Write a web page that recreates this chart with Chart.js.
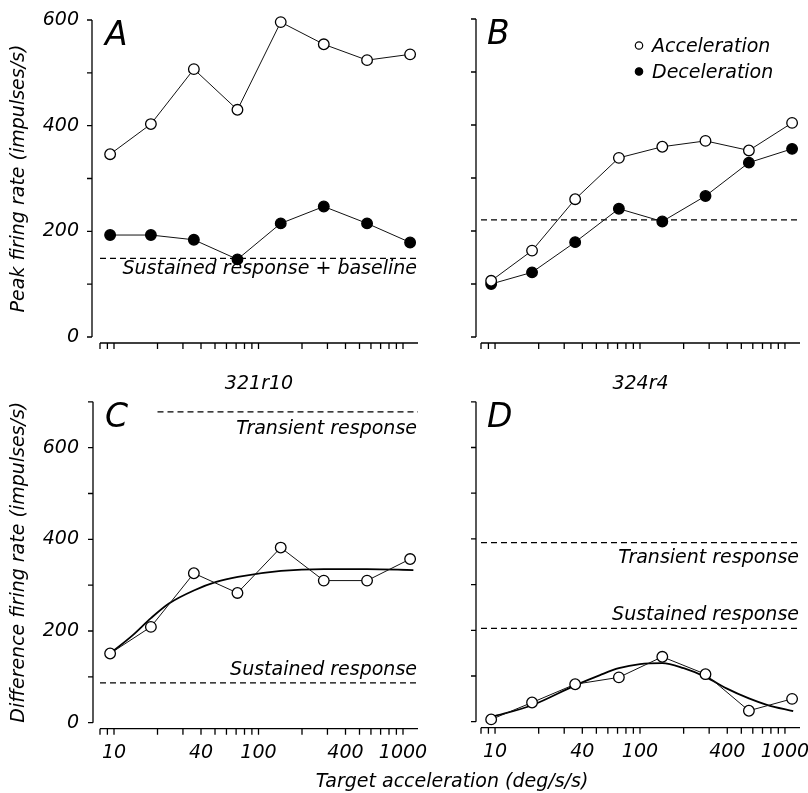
<!DOCTYPE html>
<html>
<head>
<meta charset="utf-8">
<script src="https://cdn.jsdelivr.net/npm/chart.js@4"></script>
<style>
  body { margin: 0; background: #fff; }
  #fig { position: relative; width: 808px; height: 793px; }
  #fig canvas { position: absolute; }
  #xTitle { position: absolute; left: 252px; width: 400px; top: 768px; text-align: center;
            font: italic 19px "DejaVu Sans"; line-height: 24px; color: #000; }
</style>
</head>
<body>
<div id="fig">
  <canvas id="panelA" width="430" height="370" style="left:0;top:0"></canvas>
  <canvas id="panelB" width="378" height="370" style="left:430px;top:0"></canvas>
  <canvas id="panelC" width="430" height="423" style="left:0;top:370px"></canvas>
  <canvas id="panelD" width="378" height="423" style="left:430px;top:370px"></canvas>
  <div id="xTitle">Target acceleration (deg/s/s)</div>
</div>
<script>
// target accelerations tested (deg/s/s), same for every panel
const accelSteps = [9.4, 18, 35.7, 71.5, 142.5, 283, 564, 1120];
const xMin = 8, xMax = 1270;
const xTickValues = [8, 9, 10, 20, 30, 40, 50, 60, 70, 80, 90, 100, 200, 300, 400, 500, 600, 700, 800, 900, 1000];
const xTickLabels = [10, 40, 100, 400, 1000];
const yTickLabels = [0, 200, 400, 600];

// A - cell 321r10, peak firing rate
const accPeakA = [346, 403, 507, 430, 596, 554, 524, 535];
const decPeakA = [193, 193, 184, 147, 215, 247, 215, 179];
const baselineA = 149;

// B - cell 324r4, peak firing rate
const accPeakB = [106, 163, 260, 338, 359, 370, 352, 404];
const decPeakB = [100, 122, 179, 242, 218, 266, 329, 355];
const baselineB = 221;

// C - 321r10 difference rate + fitted curve
const diffC = [151, 209, 326, 283, 382, 310, 310, 357];
const fitXC = [9.4, 13.5, 18, 24, 36, 51, 72, 143, 283, 564, 1180];
const fitYC = [151, 191, 228, 260, 289, 307, 318, 331, 335, 335, 333];
const transientC = 678, transientStartC = 20;
const sustainedC = 87;

// D - 324r4 difference rate + fitted curve
const diffD = [5, 42, 82, 97, 142, 104, 24, 50];
const fitXD = [9.4, 18, 36, 53, 71.5, 100, 142.5, 200, 283, 395, 564, 750, 1140];
const fitYD = [10, 36, 80, 102, 117, 126, 128, 117, 98, 73, 51, 37, 23];
const transientD = 392;
const sustainedD = 204;

Chart.defaults.font.family = '"DejaVu Sans", sans-serif';
Chart.defaults.font.size = 19;
Chart.defaults.font.style = 'italic';
Chart.defaults.color = '#000';

function seriesSet(label, values, filled) {
  return {
    label: label,
    data: accelSteps.map((x, i) => ({ x: x, y: values[i] })),
    borderColor: '#111', borderWidth: 1,
    pointRadius: 5.3, pointBorderWidth: 1.3, pointBorderColor: '#000',
    pointBackgroundColor: filled ? '#000' : '#fff',
    backgroundColor: filled ? '#000' : '#fff',
    tension: 0, clip: false
  };
}

function fitSet(xs, ys) {
  return {
    label: 'fit', data: xs.map((x, i) => ({ x: x, y: ys[i] })),
    borderColor: '#000', borderWidth: 1.8, pointRadius: 0,
    cubicInterpolationMode: 'monotone', clip: false
  };
}

function refSet(value, from, text, side) {
  return {
    label: text, data: [{ x: from, y: value }, { x: xMax, y: value }],
    borderColor: '#000', borderWidth: 1.2, borderDash: [6, 4], pointRadius: 0,
    clip: false, refText: text, refSide: side
  };
}

// axes drawn detached from the plot area, like the original figure
const offsetAxes = {
  id: 'offsetAxes',
  beforeDatasetsDraw(chart, args, opts) {
    const { ctx, chartArea } = chart;
    const x = chart.scales.x, y = chart.scales.y;
    const ax = chartArea.left - opts.gap;
    const ay = chartArea.bottom + opts.drop;
    ctx.save();
    ctx.strokeStyle = '#000';
    ctx.lineWidth = 1.3;
    ctx.beginPath();
    ctx.moveTo(ax, y.getPixelForValue(y.max));
    ctx.lineTo(ax, y.getPixelForValue(0));
    y.ticks.forEach(t => {
      const py = y.getPixelForValue(t.value);
      ctx.moveTo(ax - 5, py);
      ctx.lineTo(ax, py);
    });
    ctx.moveTo(x.getPixelForValue(xMin), ay);
    ctx.lineTo(chartArea.right, ay);
    x.ticks.forEach(t => {
      const px = x.getPixelForValue(t.value);
      ctx.moveTo(px, ay);
      ctx.lineTo(px, ay + 6);
    });
    ctx.stroke();
    ctx.restore();
  }
};

// panel letter, captions of the dashed lines and the small legend in B
const panelText = {
  id: 'panelText',
  afterDatasetsDraw(chart, args, opts) {
    const { ctx, chartArea } = chart;
    ctx.save();
    ctx.fillStyle = '#000';
    ctx.textBaseline = 'alphabetic';
    ctx.textAlign = 'left';
    ctx.font = 'italic 33px "DejaVu Sans"';
    ctx.fillText(opts.letter, chartArea.left + opts.letterDx, chartArea.top + 25);

    ctx.font = 'italic 19px "DejaVu Sans"';
    ctx.textAlign = 'right';
    chart.data.datasets.forEach((ds, i) => {
      if (!ds.refText) return;
      const py = chart.getDatasetMeta(i).data[1].y;
      const ty = ds.refSide === 'above' ? py - 8 : py + opts.below;
      ctx.fillText(ds.refText, chartArea.right - 1, ty);
    });

    if (opts.legend) {
      const x0 = chartArea.right - 161;
      ctx.textAlign = 'left';
      chart.data.datasets.slice(0, 2).forEach((ds, i) => {
        const base = chartArea.top + 33 + i * 26;
        ctx.beginPath();
        ctx.arc(x0, base - 6.5, 3.7, 0, Math.PI * 2);
        ctx.fillStyle = ds.pointBackgroundColor;
        ctx.fill();
        ctx.lineWidth = 1.2;
        ctx.strokeStyle = '#000';
        ctx.stroke();
        ctx.fillStyle = '#000';
        ctx.fillText(ds.label, x0 + 13, base);
      });
    }
    ctx.restore();
  }
};

function makePanel(id, p) {
  return new Chart(document.getElementById(id), {
    type: 'line',
    data: { datasets: p.datasets },
    options: {
      responsive: false,
      animation: false,
      events: [],
      layout: { padding: { top: p.padTop, right: p.padRight, bottom: 0, left: 0 } },
      plugins: {
        legend: { display: false },
        tooltip: { enabled: false },
        title: p.title
          ? { display: true, text: p.title, fullSize: false, font: { size: 19, style: 'italic', weight: 'normal' }, padding: { top: 3, bottom: 6 } }
          : { display: false },
        offsetAxes: { gap: p.gap, drop: 6 },
        panelText: { letter: p.letter, letterDx: p.letterDx, legend: p.legend, below: p.below }
      },
      scales: {
        x: {
          type: 'logarithmic', min: xMin, max: xMax,
          grid: { display: false, drawTicks: false }, border: { display: false },
          afterBuildTicks: s => { s.ticks = xTickValues.map(v => ({ value: v })); },
          ticks: {
            autoSkip: false, maxRotation: 0, padding: 19,
            callback: v => (p.xLabels && xTickLabels.includes(v) ? String(v) : '')
          },
          afterFit: s => { s.height = p.xHeight; s.paddingLeft = 0; s.paddingRight = 0; }
        },
        y: {
          min: 0, max: p.yMax,
          grid: { display: false, drawTicks: false }, border: { display: false },
          ticks: {
            stepSize: 100, padding: 21,
            callback: v => (p.yLabels && yTickLabels.includes(v) ? String(v) : '')
          },
          title: p.yTitle
            ? { display: true, text: p.yTitle, padding: { top: 8, bottom: 0 } }
            : { display: false },
          afterFit: s => { s.width = p.yWidth; s.paddingTop = 0; s.paddingBottom = 0; }
        }
      }
    },
    plugins: [offsetAxes, panelText]
  });
}

makePanel('panelA', {
  letter: 'A', letterDx: 5, gap: 8, padTop: 20, padRight: 12, yWidth: 100, xHeight: 33,
  yMax: 600, yLabels: true, xLabels: false, below: 16,
  yTitle: 'Peak firing rate (impulses/s)',
  datasets: [
    seriesSet('Acceleration', accPeakA, false),
    seriesSet('Deceleration', decPeakA, true),
    refSet(baselineA, xMin, 'Sustained response + baseline', 'below')
  ]
});

makePanel('panelB', {
  letter: 'B', letterDx: 6, gap: 5, padTop: 19, padRight: 8, yWidth: 51, xHeight: 33,
  yMax: 600, yLabels: false, xLabels: false, legend: true, below: 16,
  datasets: [
    seriesSet('Acceleration', accPeakB, false),
    seriesSet('Deceleration', decPeakB, true),
    refSet(baselineB, xMin, '', 'below')
  ]
});

makePanel('panelC', {
  letter: 'C', letterDx: 5, gap: 7, padTop: 0, padRight: 12, yWidth: 100, xHeight: 70.3,
  yMax: 700, yLabels: true, xLabels: true, title: '321r10', below: 22,
  yTitle: 'Difference firing rate (impulses/s)',
  datasets: [
    seriesSet('Difference', diffC, false),
    fitSet(fitXC, fitYC),
    refSet(transientC, transientStartC, 'Transient response', 'below'),
    refSet(sustainedC, xMin, 'Sustained response', 'above')
  ]
});

makePanel('panelD', {
  letter: 'D', letterDx: 6, gap: 5, padTop: 0, padRight: 8, yWidth: 51, xHeight: 71.3,
  yMax: 700, yLabels: false, xLabels: true, title: '324r4', below: 20,
  datasets: [
    seriesSet('Difference', diffD, false),
    fitSet(fitXD, fitYD),
    refSet(transientD, xMin, 'Transient response', 'below'),
    refSet(sustainedD, xMin, 'Sustained response', 'above')
  ]
});
</script>
</body>
</html>
